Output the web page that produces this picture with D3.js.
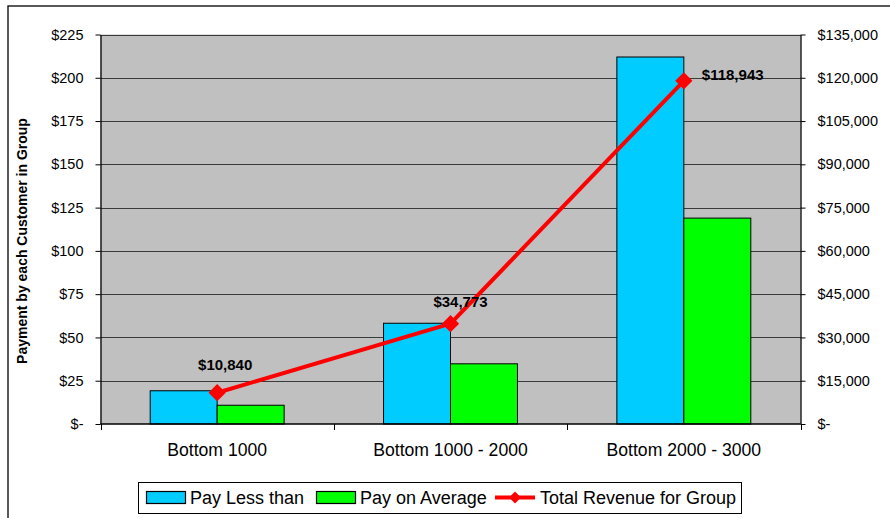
<!DOCTYPE html>
<html>
<head>
<meta charset="utf-8">
<script src="https://cdn.jsdelivr.net/npm/d3@7"></script>
<style>
  html, body { margin: 0; padding: 0; background: #fff; }
  svg { display: block; font-family: "Liberation Sans", Arial, sans-serif; }
</style>
</head>
<body>
<svg id="chart" width="890" height="518"></svg>
<script>
// Customer groups and their figures
const categories = ["Bottom 1000", "Bottom 1000 - 2000", "Bottom 2000 - 3000"];
const payLessThan = [19.2, 58.2, 212];
const payOnAverage = [10.84, 34.77, 118.94];
const totalRevenue = [10840, 34773, 118943];
const leftTicks = [0, 25, 50, 75, 100, 125, 150, 175, 200, 225];
const rightTicks = [0, 15000, 30000, 45000, 60000, 75000, 90000, 105000, 120000, 135000];
const seriesNames = ["Pay Less than", "Pay on Average", "Total Revenue for Group"];

const svg = d3.select("#chart");
const plot = { left: 100.5, right: 800.5, top: 34.5, bottom: 424 };

const x0 = d3.scaleBand().domain(categories).range([plot.left, plot.right])
  .paddingInner(0.426).paddingOuter(0.213);
const x1 = d3.scaleBand().domain(["less", "avg"]).range([0, x0.bandwidth()]);
const yL = d3.scaleLinear().domain([0, 225]).range([plot.bottom, plot.top]);
const yR = d3.scaleLinear().domain([0, 135000]).range([plot.bottom, plot.top]);

const money = v => v === 0 ? "$-" : "$" + d3.format(",")(v);

// Outer frame
svg.append("rect").attr("x", 8).attr("y", 6).attr("width", 900).attr("height", 600)
  .attr("fill", "none").attr("stroke", "#000").attr("stroke-width", 1.3);

// Plot background
svg.append("rect").attr("x", plot.left).attr("y", plot.top)
  .attr("width", plot.right - plot.left).attr("height", plot.bottom - plot.top)
  .attr("fill", "#C0C0C0");

// Horizontal gridlines
svg.append("g").selectAll("line").data(leftTicks.filter(d => d > 0)).join("line")
  .attr("x1", plot.left).attr("x2", plot.right)
  .attr("y1", d => Math.round(yL(d)) + 0.5).attr("y2", d => Math.round(yL(d)) + 0.5)
  .attr("stroke", "#3a3a3a").attr("stroke-width", 1);

// Bars
const barData = [];
categories.forEach((c, i) => {
  barData.push({ c, key: "less", v: payLessThan[i], fill: "#00CCFF" });
  barData.push({ c, key: "avg", v: payOnAverage[i], fill: "#00FF00" });
});
svg.append("g").selectAll("rect").data(barData).join("rect")
  .attr("x", d => x0(d.c) + x1(d.key))
  .attr("y", d => yL(d.v))
  .attr("width", x1.bandwidth())
  .attr("height", d => plot.bottom - yL(d.v))
  .attr("fill", d => d.fill)
  .attr("stroke", "#000").attr("stroke-width", 1);

// Left axis
const leftAxis = d3.axisLeft(yL).tickValues(leftTicks).tickFormat(money)
  .tickSize(5).tickSizeOuter(0).tickPadding(12);
const gL = svg.append("g").attr("transform", `translate(${plot.left},0)`).call(leftAxis);
gL.select(".domain").attr("stroke", "#000").attr("stroke-width", 1.3);
gL.selectAll(".tick line").attr("stroke", "#000");
gL.selectAll("text").attr("font-size", 14.5).attr("fill", "#000")
  .attr("font-family", "'Liberation Sans', Arial, sans-serif");

// Right axis
const rightAxis = d3.axisRight(yR).tickValues(rightTicks).tickFormat(money)
  .tickSize(5).tickSizeOuter(0).tickPadding(12);
const gR = svg.append("g").attr("transform", `translate(${plot.right},0)`).call(rightAxis);
gR.select(".domain").attr("stroke", "#000").attr("stroke-width", 1.3);
gR.selectAll(".tick line").attr("stroke", "#000");
gR.selectAll("text").attr("font-size", 14.5).attr("fill", "#000")
  .attr("font-family", "'Liberation Sans', Arial, sans-serif");

// Category axis: ticks sit on the group boundaries
const boundaries = d3.range(categories.length + 1).map(i => plot.left + i * x0.step());
const gX = svg.append("g");
gX.append("line").attr("x1", plot.left).attr("x2", plot.right)
  .attr("y1", plot.bottom).attr("y2", plot.bottom)
  .attr("stroke", "#000").attr("stroke-width", 1.5);
gX.selectAll("line.tk").data(boundaries).join("line").attr("class", "tk")
  .attr("x1", d => Math.round(d) + 0.5).attr("x2", d => Math.round(d) + 0.5)
  .attr("y1", plot.bottom).attr("y2", plot.bottom + 6)
  .attr("stroke", "#000");
gX.selectAll("text").data(categories).join("text")
  .attr("x", d => x0(d) + x0.bandwidth() / 2)
  .attr("y", 455.5)
  .attr("text-anchor", "middle").attr("font-size", 17.6).attr("fill", "#000")
  .text(d => d);

// Left axis title
svg.append("text")
  .attr("transform", "translate(27,241) rotate(-90)")
  .attr("text-anchor", "middle").attr("font-size", 14).attr("font-weight", "bold")
  .text("Payment by each Customer in Group");

// Revenue line
const pts = categories.map((c, i) => [x0(c) + x0.bandwidth() / 2, yR(totalRevenue[i])]);
svg.append("path").attr("d", d3.line()(pts))
  .attr("fill", "none").attr("stroke", "#FF0000").attr("stroke-width", 4)
  .attr("stroke-linejoin", "round");
const diamond = d3.symbol().type(d3.symbolDiamond2).size(190);
svg.append("g").selectAll("path").data(pts).join("path")
  .attr("transform", d => `translate(${d[0]},${d[1]})`)
  .attr("d", diamond)
  .attr("fill", "#FF0000");

// Revenue value labels
const labelPlacement = [
  { dx: 8, dy: -23, anchor: "middle" },
  { dx: 10, dy: -17, anchor: "middle" },
  { dx: 18, dy: -1, anchor: "start" }
];
svg.append("g").selectAll("text").data(pts).join("text")
  .attr("x", (d, i) => d[0] + labelPlacement[i].dx)
  .attr("y", (d, i) => d[1] + labelPlacement[i].dy)
  .attr("text-anchor", (d, i) => labelPlacement[i].anchor)
  .attr("font-size", 15).attr("font-weight", "bold").attr("fill", "#000")
  .text((d, i) => money(totalRevenue[i]));

// Legend
const lg = svg.append("g");
lg.append("rect").attr("x", 138.5).attr("y", 482.5).attr("width", 603).attr("height", 31)
  .attr("fill", "#fff").attr("stroke", "#000").attr("stroke-width", 1);
const swatches = [
  { x: 146, fill: "#00CCFF", tx: 190 },
  { x: 316, fill: "#00FF00", tx: 360 }
];
swatches.forEach((s, i) => {
  lg.append("rect").attr("x", s.x + 0.5).attr("y", 491.5).attr("width", 39).attr("height", 12)
    .attr("fill", s.fill).attr("stroke", "#000").attr("stroke-width", 1.2);
  lg.append("text").attr("x", s.tx).attr("y", 504).attr("font-size", 18).text(seriesNames[i]);
});
lg.append("line").attr("x1", 495).attr("x2", 535).attr("y1", 497.5).attr("y2", 497.5)
  .attr("stroke", "#FF0000").attr("stroke-width", 4);
lg.append("path").attr("transform", "translate(515,497.5)")
  .attr("d", d3.symbol().type(d3.symbolDiamond2).size(90)).attr("fill", "#FF0000");
lg.append("text").attr("x", 540).attr("y", 504).attr("font-size", 18).text(seriesNames[2]);
</script>
</body>
</html>
